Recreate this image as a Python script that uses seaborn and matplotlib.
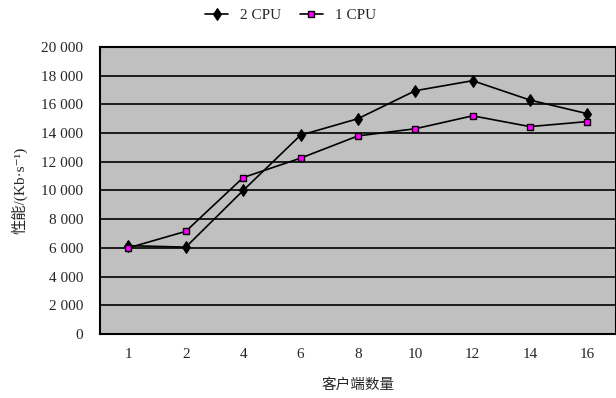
import numpy as np
import pandas as pd
import matplotlib
matplotlib.use("Agg")
import matplotlib.pyplot as plt
from matplotlib.ticker import FuncFormatter, FixedLocator
import seaborn as sns

# data
clients = ["1", "2", "4", "6", "8", "10", "12", "14", "16"]
cpu2 = [6150, 6050, 10000, 13850, 15000, 16950, 17650, 16300, 15350]
cpu1 = [6000, 7150, 10900, 12250, 13800, 14300, 15200, 14450, 14800]

df = pd.DataFrame({
    "clients": clients * 2,
    "perf": cpu2 + cpu1,
    "series": ["2 CPU"] * len(clients) + ["1 CPU"] * len(clients),
})

sns.set_style("white")
plt.rcParams["font.family"] = ["Liberation Serif", "Noto Sans CJK SC", "DejaVu Sans"]

fig = plt.figure(figsize=(6.16, 3.98), dpi=100)
ax = fig.add_axes([0.162, 0.161, 0.838, 0.721])
ax.set_facecolor("#c0c0c0")

sns.lineplot(data=df[df.series == "2 CPU"], x="clients", y="perf", ax=ax,
             color="black", lw=1.2, marker="d", markersize=6.5,
             markerfacecolor="black", markeredgecolor="black", label="2 CPU")
sns.lineplot(data=df[df.series == "1 CPU"], x="clients", y="perf", ax=ax,
             color="black", lw=1.2, marker="s", markersize=4.5,
             markerfacecolor="#ff00ff", markeredgecolor="black", markeredgewidth=1,
             label="1 CPU")

ax.set_xlim(-0.5, len(clients) - 0.5)
ax.set_ylim(0, 20000)
ax.set_yticks(np.arange(0, 20001, 2000))
ax.yaxis.set_major_formatter(FuncFormatter(lambda v, p: f"{int(v):,}".replace(",", " ")))
ax.grid(axis="y", color="black", lw=1.2)
ax.set_axisbelow(True)

ax.xaxis.set_minor_locator(FixedLocator(np.arange(0.5, len(clients) - 1, 1)))
ax.tick_params(axis="x", which="major", length=0, pad=10, labelsize=11)
ax.tick_params(axis="x", which="minor", direction="in", length=5, width=1.5, color="black")
ax.tick_params(axis="y", length=0, pad=12, labelsize=11)

for s in ax.spines.values():
    s.set_color("black")
    s.set_linewidth(1.5)

ax.set_xlabel("客户端数量", family=["Noto Sans CJK SC", "DejaVu Sans"], fontsize=10.5, labelpad=12)
ax.set_ylabel("性能/(Kb·s⁻¹)", family=["Liberation Serif", "Noto Sans CJK SC", "DejaVu Sans"],
              fontsize=11, labelpad=10)

handles, labels = ax.get_legend_handles_labels()
ax.get_legend().remove()
fig.legend(handles, labels, loc="center", bbox_to_anchor=(0.472, 0.962), ncol=2,
           frameon=False, fontsize=11, handlelength=1.5, handletextpad=0.8,
           columnspacing=1.2)

fig.savefig("out.png", dpi=100)
